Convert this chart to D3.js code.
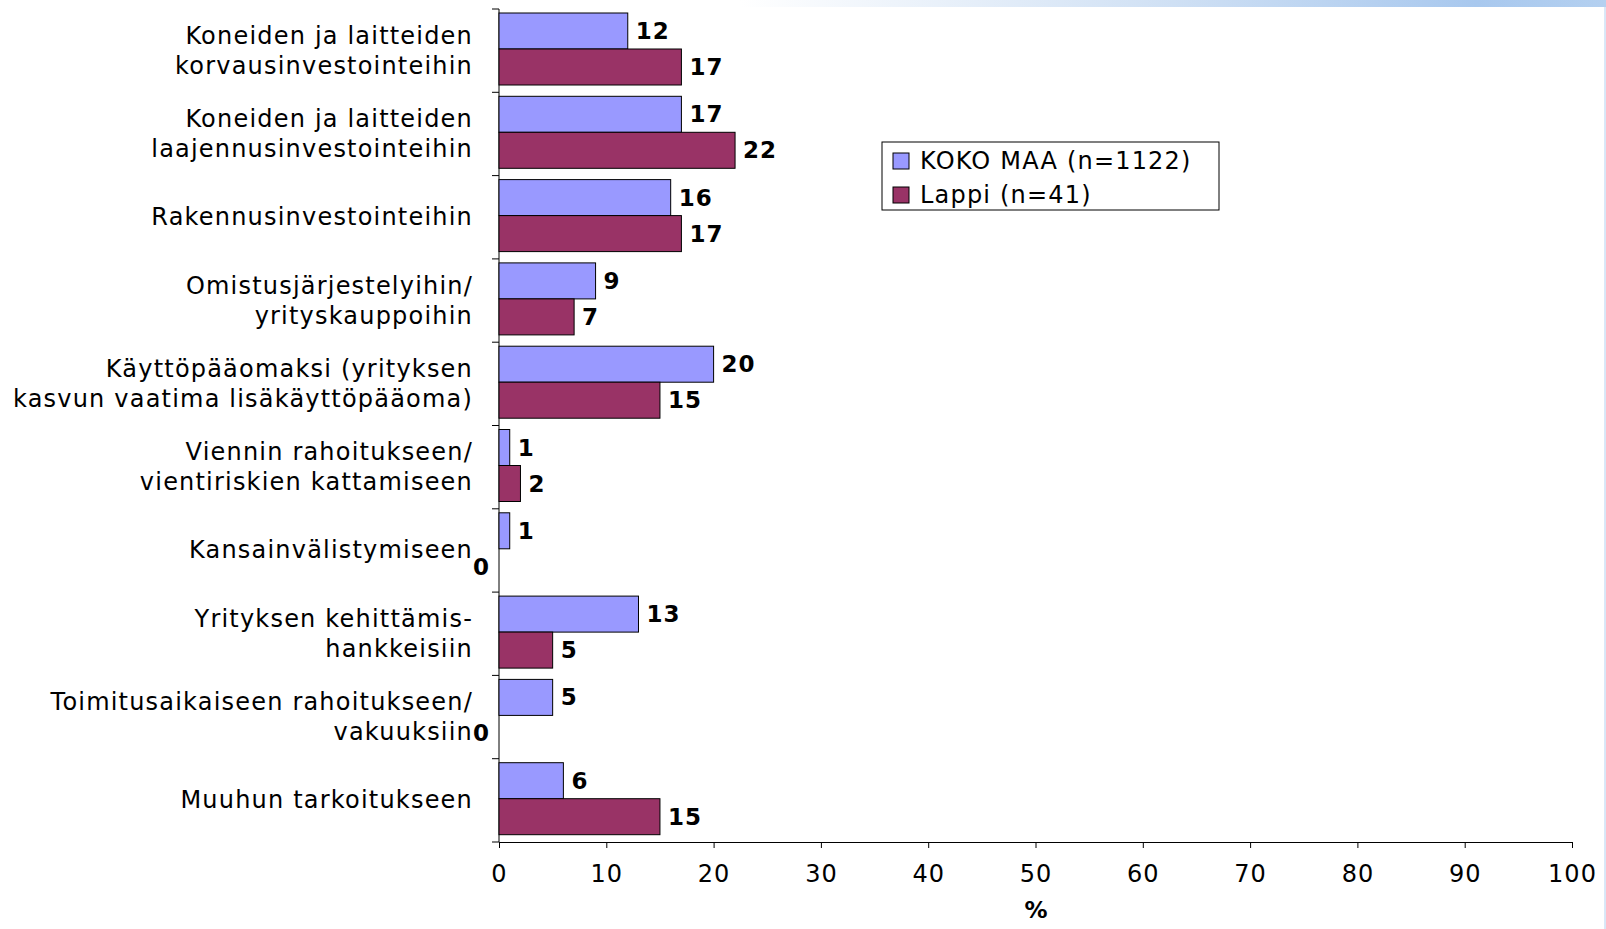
<!DOCTYPE html><html><head><meta charset="utf-8">
<script src="https://cdn.jsdelivr.net/npm/d3@7"></script>
<style>body{margin:0;background:#fff}text{font-family:"DejaVu Sans",Verdana,sans-serif}</style></head><body>
<svg id="c" width="1606" height="929"></svg>
<script>
const categories=[["Koneiden ja laitteiden","korvausinvestointeihin"],["Koneiden ja laitteiden","laajennusinvestointeihin"],["Rakennusinvestointeihin"],["Omistusjärjestelyihin/","yrityskauppoihin"],["Käyttöpääomaksi (yrityksen","kasvun vaatima lisäkäyttöpääoma)"],["Viennin rahoitukseen/","vientiriskien kattamiseen"],["Kansainvälistymiseen"],["Yrityksen kehittämis-","hankkeisiin"],["Toimitusaikaiseen rahoitukseen/","vakuuksiin"],["Muuhun tarkoitukseen"]];
const kokoMaa=[12,17,16,9,20,1,1,13,5,6];
const lappi=[17,22,17,7,15,2,0,5,0,15];
const seriesNames=["KOKO MAA (n=1122)","Lappi (n=41)"];
const colors=["#9999FF","#993366"];
const xTicks=d3.range(0,101,10);
const svg=d3.select("#c");
const defs=svg.append("defs");
const g=defs.append("linearGradient").attr("id","tg");
g.append("stop").attr("offset","0").attr("stop-color","#fff");
g.append("stop").attr("offset","0.5").attr("stop-color","#cfe0f4");
g.append("stop").attr("offset","0.85").attr("stop-color","#a8c8ee");
g.append("stop").attr("offset","1").attr("stop-color","#b4d0f0");
svg.append("rect").attr("x",740).attr("y",0).attr("width",866).attr("height",7).attr("fill","url(#tg)");
svg.append("line").attr("x1",1605).attr("x2",1605).attr("y1",0).attr("y2",929).attr("stroke","#b4d0f0");
const x=d3.scaleLinear().domain([0,100]).range([499,1572]);
const y=d3.scaleBand().domain(d3.range(10)).range([9,842]);
const ax=svg.append("g").attr("transform","translate(0,842)").call(d3.axisBottom(x).tickValues(xTicks).tickSize(6).tickSizeOuter(0));
ax.selectAll("text").attr("font-size",24).attr("letter-spacing",1).attr("fill","#000").attr("dy","1.3em").attr("font-family","DejaVu Sans");
ax.select(".domain").attr("stroke","#000");
svg.append("line").attr("x1",499).attr("x2",499).attr("y1",9).attr("y2",842).attr("stroke","#000");
d3.range(11).forEach(i=>{const yy=i<10?y(i):842;svg.append("line").attr("x1",492).attr("x2",499).attr("y1",yy).attr("y2",yy).attr("stroke","#000");});
const bh=36;
[kokoMaa,lappi].forEach((s,si)=>{
 s.forEach((v,i)=>{
  const y0=y(i)+4+si*bh;
  svg.append("rect").attr("x",x(0)).attr("y",y0).attr("width",x(v)-x(0)).attr("height",bh).attr("fill",colors[si]).attr("stroke","#000").attr("stroke-width",1);
  svg.append("text").attr("x",x(v)+(v===0?-26:8)).attr("y",y0+bh/2+8).attr("font-size",23).attr("letter-spacing",1).attr("font-weight","bold").text(v);
 });
});
categories.forEach((c,i)=>{
 const cy=y(i)+y.bandwidth()/2;
 const n=c.length;
 c.forEach((l,j)=>svg.append("text").attr("x",473).attr("y",cy+(j-(n-1)/2)*30+8).attr("text-anchor","end").attr("font-size",24).attr("letter-spacing",1.2).text(l));
});
svg.append("text").attr("x",1036).attr("y",918).attr("text-anchor","middle").attr("font-size",23).attr("font-weight","bold").text("%");
const lg=svg.append("g");
lg.append("rect").attr("x",882).attr("y",142).attr("width",337).attr("height",68).attr("fill","#fff").attr("stroke","#000");
seriesNames.forEach((n,i)=>{
 lg.append("rect").attr("x",893).attr("y",153+i*34).attr("width",16).attr("height",16).attr("fill",colors[i]).attr("stroke","#000");
 lg.append("text").attr("x",920).attr("y",169+i*34).attr("font-size",24).attr("letter-spacing",1.2).text(n);
});
</script></body></html>
